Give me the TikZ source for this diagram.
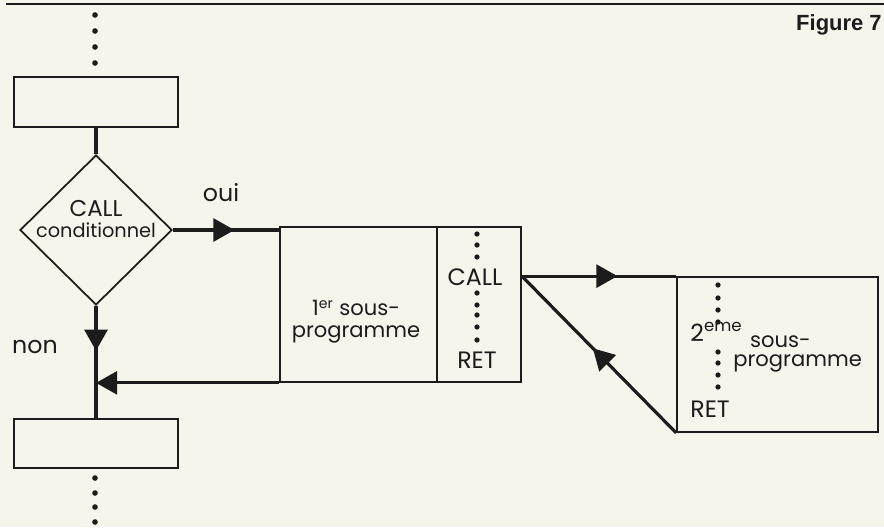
\documentclass[tikz,border=0pt]{standalone}
\usepackage{fontspec}
\setmainfont{Poppins}
\newfontfamily\figfont{Liberation Sans}
\usepackage{tikz}
\usetikzlibrary{positioning,calc,arrows.meta,shapes.geometric,decorations.markings}
\definecolor{paperc}{HTML}{F6F5EC}
\definecolor{inkc}{HTML}{1C1C1C}

\tikzset{
  box/.style={draw=inkc,line width=1pt,inner sep=0pt},
  flow/.style={draw=inkc,line width=1.8pt},
  midarrow/.style={postaction={decorate},decoration={markings,
     mark=at position #1 with {\arrow{Triangle[length=12pt,width=13pt]}}}},
  lbl/.style={font=\fontsize{13.5}{13.6}\selectfont,text=inkc,inner sep=0pt},
  small/.style={font=\fontsize{12}{12.6}\selectfont},
}

\begin{document}
\begin{tikzpicture}[x=0.02cm,y=-0.02cm]
  \fill[paperc] (0,0) rectangle (884,527);
  \useasboundingbox (0,0) rectangle (884,527);
  \draw[inkc,line width=1.7pt] (6,4) -- (884,4);
  \node[lbl,font={\figfont\bfseries\fontsize{12.5}{15}\selectfont},anchor=base east] (fig) at (882,31) {Figure 7};
  \node[box,minimum width=3.28cm,minimum height=1cm] (topbox) at (96,102) {};
  \node[box,shape=diamond,minimum width=3.04cm,minimum height=3cm] (cond) at (96,230) {};
  \node[box,minimum width=4.82cm,minimum height=3.1cm] (sub1) at (400.5,304.5) {};
  \node[box,minimum width=4.02cm,minimum height=3.1cm] (sub2) at (777.5,354.5) {};
  \node[box,minimum width=3.28cm,minimum height=0.98cm] (botbox) at (96,443.5) {};
  \draw[inkc,line width=1pt] ($(sub1.north west)!0.651!(sub1.north east)$)
     -- ($(sub1.south west)!0.651!(sub1.south east)$);
  \foreach \y in {15,31,47,63,478,493,507,522}
     \fill[inkc] (95,\y) circle (1.6pt);
  \foreach \y in {234,245,257,293,305,315,327,340}
     \fill[inkc] (477,\y) circle (1.5pt);
  \foreach \y in {285,298,310,322,352,363,375,387}
     \fill[inkc] (718,\y) circle (1.5pt);
  \coordinate (callpt) at (sub1.east |- sub2.north);
  \draw[flow] (topbox.south) -- (cond.north);
  \draw[flow,midarrow=0.58] (cond.east) -- (cond.east -| sub1.west);
  \draw[flow,midarrow=0.4] (cond.south) -- (botbox.north);
  \draw[flow,-{Triangle[length=12pt,width=13pt]}] (sub1.south west) -- (sub1.south west -| cond.south);
  \draw[flow,midarrow=0.62] (callpt) -- (sub2.north west);
  \draw[flow,midarrow=0.54] (sub2.south west) -- (callpt);
  \node[lbl] (oui) at (221,193) {oui};
  \node[lbl] (non) at (35,347) {non};
  \node[lbl,align=center,font=\fontsize{11}{11.5}\selectfont] (condtxt) at (96,219)
     {{\fontsize{13}{13}\selectfont CALL}\\conditionnel};
  \node[lbl,small,align=center] (sub1txt) at (356,322) {1\textsuperscript{er} sous-\\programme};
  \node[lbl] (call1) at (475,277) {CALL};
  \node[lbl] (ret1) at (477,360) {RET};
  \node[lbl,anchor=base west] (rang2) at (690,341) {2\textsuperscript{eme}};
  \node[lbl,small,align=left,font=\fontsize{12}{10.8}\selectfont,anchor=west] (sous2) at (733,354)
     {\hspace*{9.6pt}sous-\\programme};
  \node[lbl,anchor=base west] (ret2) at (690,417) {RET};
\end{tikzpicture}
\end{document}
